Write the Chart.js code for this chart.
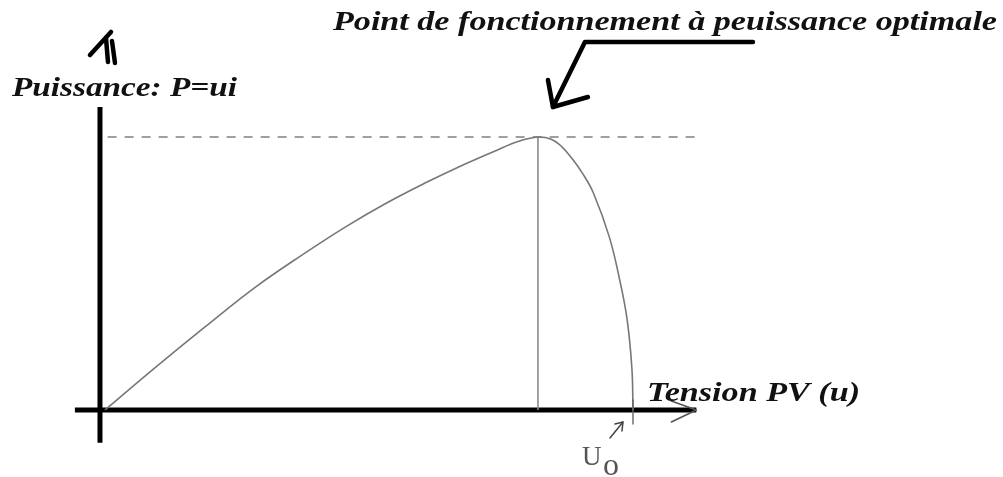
<!DOCTYPE html>
<html>
<head>
<meta charset="utf-8">
<title>Puissance PV</title>
<script src="https://cdn.jsdelivr.net/npm/chart.js@4.4.1/dist/chart.umd.min.js"></script>
<style>
  html, body { margin: 0; padding: 0; background: #fff; overflow: hidden; }
  #wrap { position: relative; width: 1003px; height: 477px; }
</style>
</head>
<body>
<div id="wrap"><canvas id="pvChart"></canvas></div>
<script>
const voltage = [0, 9.5, 19, 28.5, 37.5, 45.5, 53.5, 61, 67.5, 74, 78.5, 82, 84.5, 86.5, 88.5, 90.5, 92.5, 95.5, 97.5, 98.9, 99.8, 100];
const power   = [0, 15.5, 30.5, 45, 57, 67, 76, 83.5, 89.5, 95, 98.5, 100, 99.2, 96.5, 92, 86.5, 79.5, 63.5, 47.5, 33, 15, 0];

const vmp = 82;      // tension au point optimal
const pmax = 100;    // puissance optimale
const uoc = 100;     // tension a vide U0

const xAxisRange = [-5.7, 112];
const yAxisRange = [-12, 111];
const yAxisAt = -0.95;

const titleText = 'Point de fonctionnement à peuissance optimale';
const yLabel = 'Puissance: P=ui';
const xLabel = 'Tension PV (u)';

const curvePoints = voltage.map((u, i) => ({ x: u, y: power[i] }));

function seg(a, b) {
    return [{ x: a[0], y: a[1] }, { x: b[0], y: b[1] }];
}

function fitText(ctx, text, x, baseline, width, font) {
    ctx.font = font;
    const w = ctx.measureText(text).width;
    ctx.save();
    ctx.translate(x, baseline);
    ctx.scale(width / w, 1);
    ctx.fillText(text, 0, 0);
    ctx.restore();
}

function strokePath(ctx, pts, width, color) {
    ctx.beginPath();
    ctx.moveTo(pts[0][0], pts[0][1]);
    for (let i = 1; i < pts.length; i++) ctx.lineTo(pts[i][0], pts[i][1]);
    ctx.lineWidth = width;
    ctx.strokeStyle = color;
    ctx.stroke();
}

// annotations dessinées a la main sur le schema
const sketchPlugin = {
    id: 'sketch',
    afterDatasetsDraw(chart) {
        const ctx = chart.ctx;
        const sx = chart.scales.x, sy = chart.scales.y;
        const px = (u, p) => [sx.getPixelForValue(u), sy.getPixelForValue(p)];

        ctx.save();
        ctx.lineCap = 'round';
        ctx.lineJoin = 'round';
        ctx.fillStyle = '#111';

        // fleche de l'axe x
        const tip = px(xAxisRange[1], 0);
        strokePath(ctx, [[tip[0] - 25, tip[1] - 9], tip, [tip[0] - 25, tip[1] + 12]], 1.6, '#555');

        // petit trait a U0
        const u0 = px(uoc, 0);
        strokePath(ctx, [[u0[0], u0[1] - 10], [u0[0], u0[1] + 14]], 1.4, '#666');

        // fleche en haut de l'axe y
        const top = px(yAxisAt, yAxisRange[1]);
        strokePath(ctx, [[top[0] - 10, top[1] - 52], [top[0] + 11, top[1] - 75]], 4.5, '#000');
        strokePath(ctx, [[top[0] + 6, top[1] - 69], [top[0] + 8, top[1] - 45]], 4.5, '#000');
        strokePath(ctx, [[top[0] + 12, top[1] - 66], [top[0] + 15, top[1] - 44]], 4.5, '#000');

        // grosse fleche vers le point optimal
        const mpp = px(vmp, pmax);
        const at = [mpp[0] + 15, mpp[1] - 30];
        strokePath(ctx, [[at[0] + 200, at[1] - 65], [at[0] + 32, at[1] - 65], at], 4.5, '#000');
        strokePath(ctx, [[at[0] - 5, at[1] - 27], at, [at[0] + 35, at[1] - 10]], 4.5, '#000');

        // fleche vers U0
        strokePath(ctx, [[u0[0] - 23, u0[1] + 28], [u0[0] - 10, u0[1] + 12]], 1.5, '#444');
        strokePath(ctx, [[u0[0] - 18, u0[1] + 14], [u0[0] - 10, u0[1] + 12], [u0[0] - 11, u0[1] + 21]], 1.5, '#444');

        // textes
        const lab = "bold italic 27px 'Liberation Serif', serif";
        fitText(ctx, titleText, 333, 30, 664, lab);
        fitText(ctx, yLabel, 12, 96, 225, lab);
        fitText(ctx, xLabel, 647, 401, 213, lab);

        ctx.fillStyle = '#555';
        ctx.font = "27px 'Liberation Serif', serif";
        ctx.fillText('U', u0[0] - 51, u0[1] + 55);
        ctx.font = "32px 'Liberation Serif', serif";
        ctx.fillText('o', u0[0] - 30, u0[1] + 65);

        ctx.restore();
    }
};

const chart = new Chart(document.getElementById('pvChart').getContext('2d'), {
    type: 'scatter',
    data: {
        datasets: [
            {
                label: 'P(u)',
                data: curvePoints,
                showLine: true,
                borderColor: '#777777',
                borderWidth: 1.6,
                pointRadius: 0,
                tension: 0.4
            },
            {
                label: 'umpp',
                data: seg([vmp, 0], [vmp, pmax]),
                showLine: true,
                borderColor: '#8a8a8a',
                borderWidth: 1.6,
                pointRadius: 0
            },
            {
                label: 'pmax',
                data: seg([0.5, pmax], [xAxisRange[1], pmax]),
                showLine: true,
                borderColor: '#808080',
                borderWidth: 1.5,
                borderDash: [9, 8],
                pointRadius: 0
            },
            {
                label: 'axe u',
                data: seg([xAxisRange[0], 0], [xAxisRange[1], 0]),
                showLine: true,
                borderColor: '#000',
                borderWidth: 5,
                pointRadius: 0
            },
            {
                label: 'axe P',
                data: seg([yAxisAt, yAxisRange[0]], [yAxisAt, yAxisRange[1]]),
                showLine: true,
                borderColor: '#000',
                borderWidth: 5,
                pointRadius: 0
            }
        ]
    },
    options: {
        responsive: true,
        maintainAspectRatio: false,
        animation: false,
        layout: { padding: 0 },
        plugins: {
            legend: { display: false },
            tooltip: { enabled: false }
        },
        scales: {
            x: { type: 'linear', display: false, min: -19.886, max: 170.08 },
            y: { type: 'linear', display: false, min: -24.54, max: 150.18 }
        }
    },
    plugins: [sketchPlugin]
});
</script>
</body>
</html>
